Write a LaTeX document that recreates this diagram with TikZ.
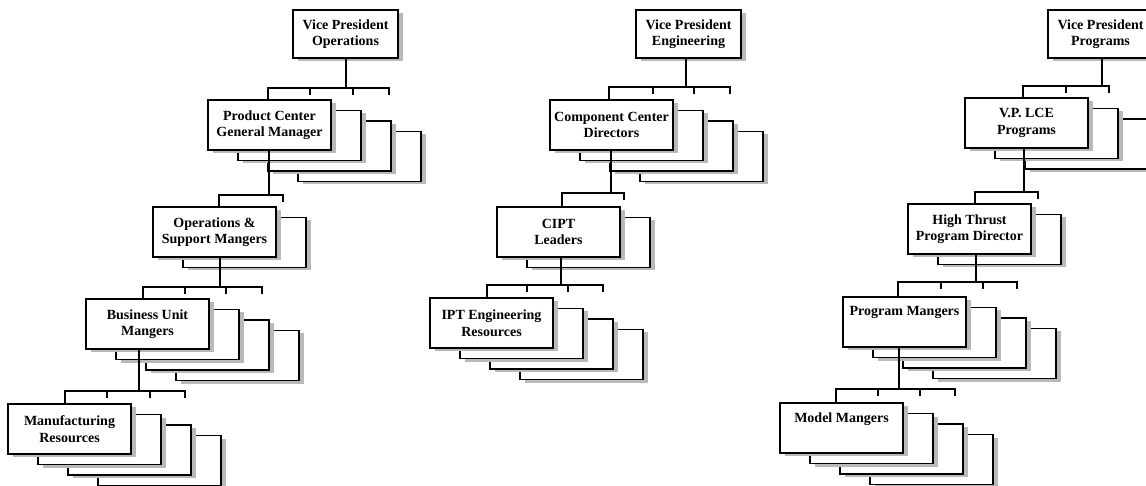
\documentclass[tikz,border=0pt]{standalone}
\usepackage{fontspec}
\setmainfont{Liberation Serif}
\usetikzlibrary{shadows}

\tikzset{
  box/.style={draw, line width=1.2pt, fill=white, inner sep=0pt, outer sep=0pt,
    anchor=north west, minimum width=123pt, minimum height=50pt, align=center,
    font=\bfseries\fontsize{14}{16.5}\selectfont,
    drop shadow={shadow xshift=4.5pt, shadow yshift=-3pt, fill=gray!55, opacity=1}},
  vpbox/.style={box, minimum width=105pt, minimum height=48pt},
  conn/.style={line width=1.9pt, line join=miter},
}

% A stack of overlapping boxes: name, x, y (top left of the front box), count, label
\newcommand\orgstack[5]{%
  \foreach \k in {#4,...,2}{%
    \node[box] (#1b\k) at ({#2+30*(\k-1)},{#3+10.5*(\k-1)}) {};
  }%
  \node[box] (#1) at (#2,#3) {#5};
}

% Connector from a parent box to a child stack:
% parent, child, drop x, bar y, first tick x, last tick x, inner tick xs
\newcommand\branch[7]{%
  \coordinate (#2j) at (#3,#4);
  \coordinate (#2a) at (#5,#4);
  \coordinate (#2e) at (#6,#4);
  \draw[conn] (#1.south -| #2j) -- (#2j);
  \draw[conn] (#2.north -| #2a) -- (#2a) -- (#2e) -- ++(0,7);
  \foreach \t in {#7}{\draw[conn] (\t,#4) -- ++(0,7);}
}

\begin{document}
\begin{tikzpicture}[x=1pt, y=-1pt]
  \useasboundingbox (0,0) rectangle (1146,486);
  \clip (0,0) rectangle (1146,486);

  % Operations
  \node[vpbox] (vpops) at (293,10) {Vice President\\Operations};
  \orgstack{pc}{208}{100}{4}{Product Center\\General Manager}
  \orgstack{os}{153}{207}{2}{Operations \&\\Support Mangers}
  \orgstack{bu}{86}{299}{4}{Business Unit\\Mangers}
  \orgstack{mr}{8}{404}{4}{Manufacturing\\Resources}

  % Engineering
  \node[vpbox] (vpeng) at (636,10) {Vice President\\Engineering};
  \orgstack{cc}{550}{100}{4}{Component Center\\Directors}
  \orgstack{ci}{497}{207}{2}{CIPT\\Leaders}
  \orgstack{ipt}{430}{298}{4}{IPT Engineering\\Resources}

  % Programs
  \node[vpbox] (vpprog) at (1048,10) {Vice President\\Programs};
  \orgstack{lce}{965}{98}{3}{V.P. LCE\\Programs}
  \orgstack{ht}{908}{204}{2}{High Thrust\\Program Director}
  \orgstack{pm}{843}{297}{4}{Program Mangers\\\strut}
  \orgstack{mm}{780}{403}{4}{Model Mangers\\\strut}

  % reporting lines
  \branch{vpops}{pc}{346}{88}{268}{389}{310,353}
  \branch{pc}{os}{269}{195}{219}{283}{283}
  \branch{os}{bu}{220}{287}{143}{262}{185,226}
  \branch{bu}{mr}{139}{391}{65}{185}{107,150}

  \branch{vpeng}{cc}{686}{87}{609}{730}{653,694}
  \branch{cc}{ci}{611}{193}{562}{624}{624}
  \branch{ci}{ipt}{561}{285}{487}{603}{527,568}

  \branch{vpprog}{lce}{1102}{86}{1023}{1109}{1066}
  \branch{lce}{ht}{1024}{192}{975}{1038}{1038}
  \branch{ht}{pm}{976}{282}{898}{1017}{941,983}
  \branch{pm}{mm}{899}{389}{836}{955}{878,920}
\end{tikzpicture}
\end{document}
